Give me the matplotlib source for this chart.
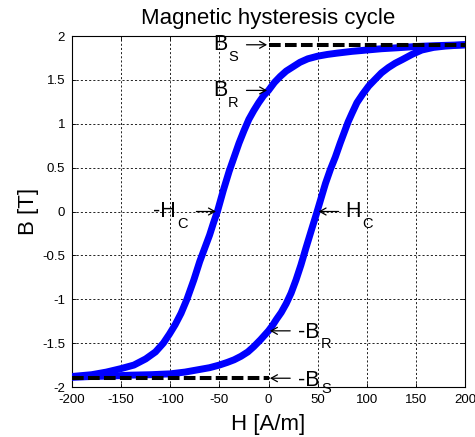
import matplotlib
matplotlib.use("Agg")
import matplotlib.pyplot as plt

plt.rcParams['font.family'] = ['Liberation Sans', 'DejaVu Sans']
plt.rcParams['axes.unicode_minus'] = False
plt.rcParams['lines.scale_dashes'] = False

# descending branch (H going from +200 down to -200)
h_down = [200, 185, 170, 150, 130, 115, 100, 85, 70, 60, 50, 40, 32, 25, 18, 12,
          6, 0, -5, -10, -15, -20, -25, -30, -35, -40, -46, -52, -56, -60, -65,
          -70, -76, -83, -89, -95, -101, -107, -115, -125, -137, -150, -165, -180,
          -200]
b_down = [1.90, 1.895, 1.89, 1.88, 1.865, 1.855, 1.84, 1.825, 1.805, 1.79, 1.77,
          1.74, 1.70, 1.65, 1.60, 1.54, 1.47, 1.38, 1.32, 1.24, 1.15, 1.05, 0.92,
          0.78, 0.62, 0.46, 0.24, 0.0, -0.13, -0.27, -0.42, -0.57, -0.78, -1.00,
          -1.16, -1.29, -1.40, -1.50, -1.60, -1.68, -1.75, -1.79, -1.83, -1.86,
          -1.88]

# ascending branch (H going from -200 up to +200)
h_up = [-200, -180, -160, -140, -120, -100, -85, -70, -60, -50, -42, -35, -28,
        -21, -15, -8, 0, 4, 8, 13, 18, 23, 28, 33, 38, 44, 49.5, 54, 58, 63, 68,
        73, 77, 81, 85, 90, 96, 102, 108, 115, 122, 129, 136, 146, 156, 168, 180,
        200]
b_up = [-1.89, -1.88, -1.875, -1.865, -1.86, -1.85, -1.83, -1.80, -1.78, -1.75,
        -1.72, -1.69, -1.65, -1.60, -1.54, -1.46, -1.36, -1.30, -1.23, -1.15,
        -1.05, -0.93, -0.78, -0.61, -0.42, -0.20, 0.0, 0.17, 0.32, 0.48, 0.62,
        0.78, 0.90, 1.02, 1.12, 1.24, 1.34, 1.43, 1.50, 1.58, 1.64, 1.69, 1.73,
        1.79, 1.84, 1.87, 1.885, 1.90]

b_sat = 1.9
b_rem = 1.38

x_ticks = [-200, -150, -100, -50, 0, 50, 100, 150, 200]
y_ticks = [-2, -1.5, -1, -0.5, 0, 0.5, 1, 1.5, 2]
y_tick_labels = ['-2', '-1.5', '-1', '-0.5', '0', '0.5', '1', '1.5', '2']

fig = plt.figure(figsize=(4.75, 4.37), dpi=100)
ax = fig.add_axes([72 / 475, 1 - 387 / 437, 393 / 475, 351 / 437])

ax.plot(h_down, b_down, color=(0, 0, 1), lw=5, solid_joinstyle='round', zorder=3)
ax.plot(h_up, b_up, color=(0, 0, 1), lw=5, solid_joinstyle='round', zorder=3)

# saturation lines
ax.plot([0, 200], [b_sat, b_sat], color='k', lw=2.9, linestyle=(0, (8.4, 3.1)),
        dash_capstyle='butt', zorder=4)
ax.plot([-200, 0], [-b_sat, -b_sat], color='k', lw=2.9, linestyle=(0, (8.4, 3.1)),
        dash_capstyle='butt', zorder=4)

ax.set_xlim(-200, 200)
ax.set_ylim(-2, 2)
ax.set_xticks(x_ticks)
ax.set_xticklabels([str(v) for v in x_ticks])
ax.set_yticks(y_ticks)
ax.set_yticklabels(y_tick_labels)
ax.tick_params(direction='in', top=True, right=True, length=3, width=0.6,
               labelsize=9.5, pad=5)
ax.grid(True, color='k', lw=0.6, linestyle=(0, (1.5, 1.5)))
for s in ax.spines.values():
    s.set_linewidth(0.8)

ax.set_title('Magnetic hysteresis cycle', fontsize=16, pad=9)
ax.set_xlabel('H [A/m]', fontsize=16)
ax.set_ylabel('B [T]', fontsize=16)
ax.xaxis.set_label_coords(0.5, -0.0755)
ax.yaxis.set_label_coords(-0.085, 0.5)

arrow = dict(arrowstyle='->,head_length=0.45,head_width=0.25', lw=0.9, color='k',
             shrinkA=0, shrinkB=1)


def mark(x, y, main, sub, tail, main_off, sub_off):
    ax.annotate('', xy=(x, y), xytext=(tail, 0), textcoords='offset pixels',
                arrowprops=arrow, zorder=5)
    ax.annotate(main, xy=(x, y), xytext=main_off, textcoords='offset pixels',
                fontsize=15.5, ha='left', va='baseline', zorder=5)
    ax.annotate(sub, xy=(x, y), xytext=sub_off, textcoords='offset pixels',
                fontsize=10.5, ha='left', va='baseline', zorder=5)


mark(0, b_sat, 'B', 'S', -22, (-55.3, -5.2), (-40.3, -16.2))
mark(0, b_rem, 'B', 'R', -22, (-55.3, -5.3), (-40.3, -16.3))
mark(-52, 0, '-H', 'C', -21, (-64.5, -5.2), (-40.5, -16.5))
mark(49.5, 0, 'H', 'C', 21.5, (28.1, -5.2), (44.8, -16.5))
mark(0, -1.36, '-B', 'R', 21.7, (29.4, -7.6), (52.4, -17.6))
mark(0, -b_sat, '-B', 'S', 21.7, (29.4, -7.7), (52.4, -14.8))

fig.savefig('out.png', dpi=100)
